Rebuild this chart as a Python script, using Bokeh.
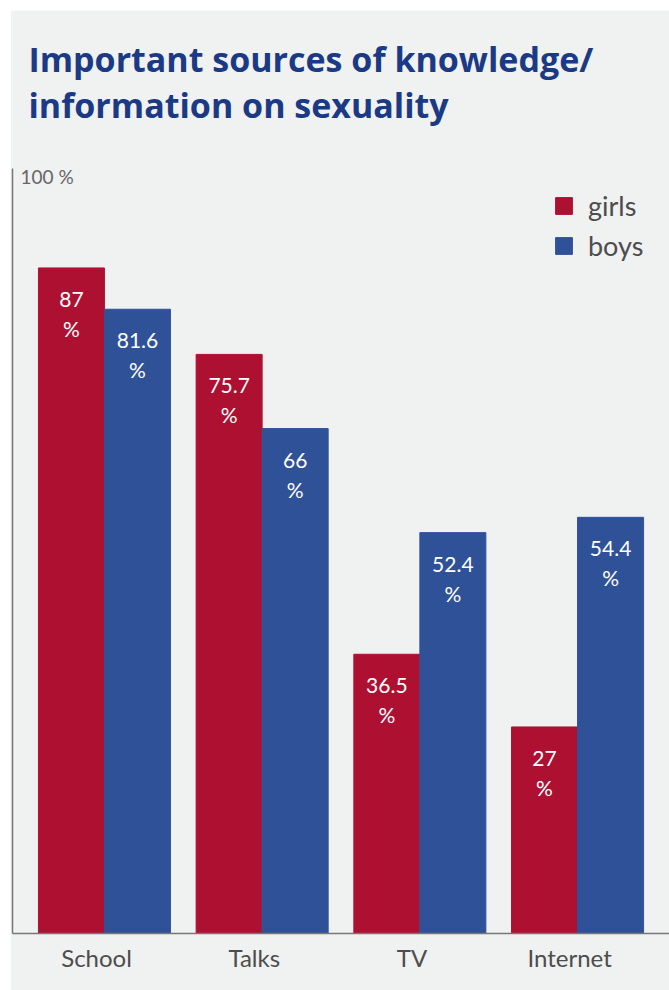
from bokeh.plotting import figure
from bokeh.models import ColumnDataSource, Range1d, FixedTicker, Label, Legend, LegendItem
from bokeh.core.properties import value
from bokeh.embed import file_html
from bokeh.resources import INLINE

categories = ["School", "Talks", "TV", "Internet"]
girls = [87, 75.7, 36.5, 27]
boys = [81.6, 66, 52.4, 54.4]

RED = "#AE1032"
BLUE = "#2F5198"
BG = "#F0F1F1"
TITLE = "#1B3A86"
GREY = "#4d4d4d"

x = list(range(len(categories)))
dodge = 0.2093
bw = 0.4185
x0 = -0.583
px_per_unit = 7.65          # vertical pixels per percent
frame_h = 923
y_top = frame_h / px_per_unit

src_g = ColumnDataSource(dict(x=[i - dodge for i in x], top=girls,
                              lab=[f"{v:g}\n%" for v in girls]))
src_b = ColumnDataSource(dict(x=[i + dodge for i in x], top=boys,
                              lab=[f"{v:g}\n%" for v in boys]))

p = figure(width=659, height=980, margin=(10, 0, 0, 10),
           x_range=Range1d(x0, len(categories) - 1 - x0),
           y_range=Range1d(0, y_top),
           output_backend="svg", toolbar_location=None,
           min_border_left=2, min_border_right=0, min_border_top=0, min_border_bottom=57)
p.background_fill_color = BG
p.border_fill_color = BG
p.outline_line_color = None
p.grid.visible = False

rg = p.vbar(x="x", top="top", width=bw, source=src_g, color=RED)
rb = p.vbar(x="x", top="top", width=bw, source=src_b, color=BLUE)

for s in (src_g, src_b):
    p.text(x="x", y="top", text="lab", source=s, text_color="white",
           text_font=value("Lato"), text_font_size="21px", text_align="center",
           text_baseline="top", y_offset=18, text_line_height=1.2)

p.xaxis.ticker = FixedTicker(ticks=[i - 0.05 for i in x])
p.xaxis.major_label_overrides = {i - 0.05: c for i, c in zip(x, categories)}
p.xaxis.major_tick_line_color = None
p.xaxis.minor_tick_line_color = None
p.xaxis.major_tick_out = 0
p.xaxis.major_label_standoff = 9
p.xaxis.major_label_text_font = "Lato"
p.xaxis.major_label_text_font_size = "24px"
p.xaxis.major_label_text_color = GREY
p.xaxis.axis_line_color = "#777777"
p.xaxis.axis_line_width = 1.5

p.yaxis.ticker = FixedTicker(ticks=[])
p.yaxis.bounds = (0, 100)
p.yaxis.major_tick_out = 0
p.yaxis.minor_tick_out = 0
p.yaxis.major_label_text_font_size = "0px"
p.yaxis.axis_line_color = "#777777"
p.yaxis.axis_line_width = 1.5

p.add_layout(Label(x=x0, y=100, text="100 %", x_offset=8, y_offset=-19,
                   text_font="Lato", text_font_size="19px", text_color="#666666"))

p.add_layout(Label(x=x0 + 0.101, y=114.3, text="Important sources of knowledge/",
                   text_font="Open Sans", text_font_style="bold", text_font_size="34px",
                   text_baseline="alphabetic", text_color=TITLE))
p.add_layout(Label(x=x0 + 0.101, y=108.3, text="information on sexuality",
                   text_font="Open Sans", text_font_style="bold", text_font_size="34px",
                   text_baseline="alphabetic", text_color=TITLE))

legend = Legend(items=[LegendItem(label="girls", renderers=[rg]),
                       LegendItem(label="boys", renderers=[rb])],
                location=(541, 671), background_fill_alpha=0, border_line_color=None,
                padding=0, spacing=7, glyph_width=21, glyph_height=21,
                label_text_font="Lato", label_text_font_size="27px",
                label_text_color=GREY, label_standoff=14, margin=0)
p.add_layout(legend)

open("out.html", "w").write(file_html(p, INLINE))
